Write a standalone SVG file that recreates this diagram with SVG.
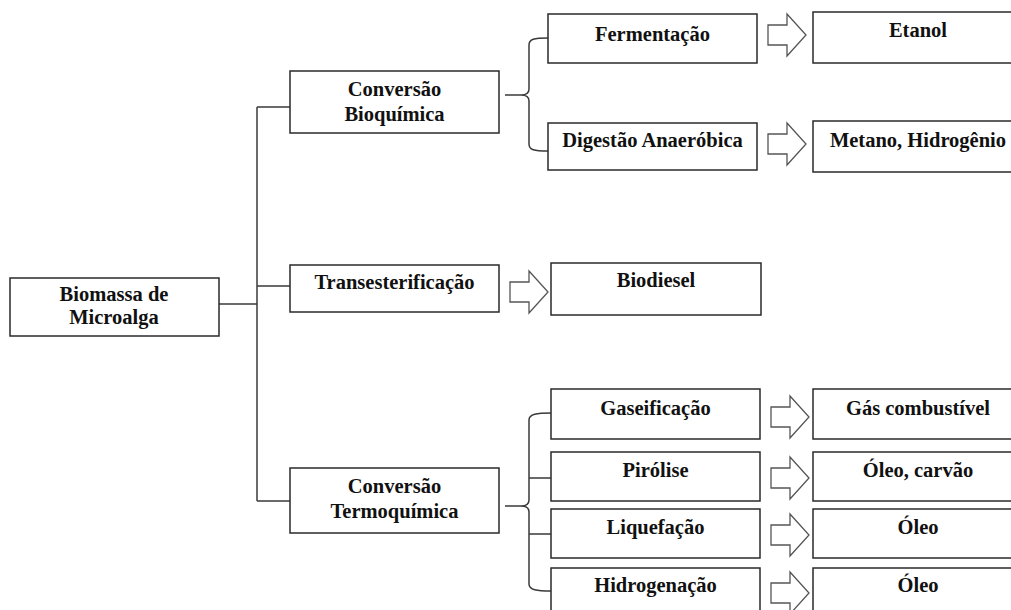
<svg xmlns="http://www.w3.org/2000/svg" xmlns:xlink="http://www.w3.org/1999/xlink" width="1011" height="610" viewBox="0 0 1011 610">
<style>
.box{fill:#fff;stroke:#2a2a2a;stroke-width:1.5}
.t{font-family:"Liberation Serif","Times New Roman",serif;font-weight:bold;font-size:20.5px;fill:#111;text-anchor:middle}
.ln{fill:none;stroke:#3a3a3a;stroke-width:1.5}
.arr{fill:#fff;stroke:#555;stroke-width:1.3;stroke-linejoin:miter}
</style>
<defs>
<path id="arrow" class="arr" d="M0,-10 H19 V-21 L38,0 L19,21 V10 H0 Z"/>
</defs>
<rect width="1011" height="610" fill="#fff"/>

<g id="connectors">
<path class="ln" d="M219,304 H257"/>
<path class="ln" d="M257,107 V501"/>
<path class="ln" d="M257,107 H290 M257,286 H290 M257,501 H290"/>
<path class="ln" d="M505,95 H521"/>
<path class="ln" d="M548,38 C534,38 529,39 529,45 L529,89 C529,93 527,95 521,95 C527,95 529,97 529,101 L529,144 C529,150 534,151 548,151"/>
<path class="ln" d="M505,506 H521"/>
<path class="ln" d="M551,413 C537,413 529,414 529,420 L529,500 C529,504 527,506 521,506 C527,506 529,508 529,512 L529,584 C529,590 537,591 551,591"/>
<path class="ln" d="M529,478 H551 M529,534 H551"/>
<use xlink:href="#arrow" x="768" y="35"/>
<use xlink:href="#arrow" x="768" y="144"/>
<use xlink:href="#arrow" x="510" y="292"/>
<use xlink:href="#arrow" x="771" y="417"/>
<use xlink:href="#arrow" x="771" y="478"/>
<use xlink:href="#arrow" x="771" y="535"/>
<use xlink:href="#arrow" x="771" y="593"/>
</g>

<g id="biomassa">
<rect class="box" x="10" y="278" width="209" height="58"/>
<text class="t" x="114" y="301">Biomassa de</text>
<text class="t" x="114" y="324">Microalga</text>
</g>

<g id="bioquimica">
<rect class="box" x="290" y="71" width="209" height="62"/>
<text class="t" x="394.5" y="96">Conversão</text>
<text class="t" x="394.5" y="121">Bioquímica</text>
</g>

<g id="transesterificacao">
<rect class="box" x="290" y="265" width="209" height="47"/>
<text class="t" x="394.5" y="289">Transesterificação</text>
</g>

<g id="termoquimica">
<rect class="box" x="290" y="468" width="209" height="65"/>
<text class="t" x="394.5" y="493">Conversão</text>
<text class="t" x="394.5" y="518">Termoquímica</text>
</g>

<g id="fermentacao">
<rect class="box" x="548" y="14" width="209" height="49"/>
<text class="t" x="652.5" y="41">Fermentação</text>
</g>

<g id="digestao">
<rect class="box" x="548" y="123" width="209" height="47"/>
<text class="t" x="652.5" y="147">Digestão Anaeróbica</text>
</g>

<g id="etanol">
<rect class="box" x="813" y="12" width="210" height="51"/>
<text class="t" x="918" y="37">Etanol</text>
</g>

<g id="metano">
<rect class="box" x="813" y="121" width="210" height="51"/>
<text class="t" x="918" y="147">Metano, Hidrogênio</text>
</g>

<g id="biodiesel">
<rect class="box" x="551" y="263" width="210" height="52"/>
<text class="t" x="656" y="287">Biodiesel</text>
</g>

<g id="gaseificacao">
<rect class="box" x="551" y="389" width="209" height="50"/>
<text class="t" x="655.5" y="415">Gaseificação</text>
</g>

<g id="pirolise">
<rect class="box" x="551" y="452" width="209" height="49"/>
<text class="t" x="655.5" y="477">Pirólise</text>
</g>

<g id="liquefacao">
<rect class="box" x="551" y="509" width="209" height="49"/>
<text class="t" x="655.5" y="534">Liquefação</text>
</g>

<g id="hidrogenacao">
<rect class="box" x="551" y="568" width="209" height="52"/>
<text class="t" x="655.5" y="592">Hidrogenação</text>
</g>

<g id="gas">
<rect class="box" x="813" y="389" width="210" height="50"/>
<text class="t" x="918" y="415">Gás combustível</text>
</g>

<g id="oleo-carvao">
<rect class="box" x="813" y="452" width="210" height="49"/>
<text class="t" x="918" y="477">Óleo, carvão</text>
</g>

<g id="oleo1">
<rect class="box" x="813" y="509" width="210" height="49"/>
<text class="t" x="918" y="534">Óleo</text>
</g>

<g id="oleo2">
<rect class="box" x="813" y="568" width="210" height="52"/>
<text class="t" x="918" y="592">Óleo</text>
</g>
</svg>
